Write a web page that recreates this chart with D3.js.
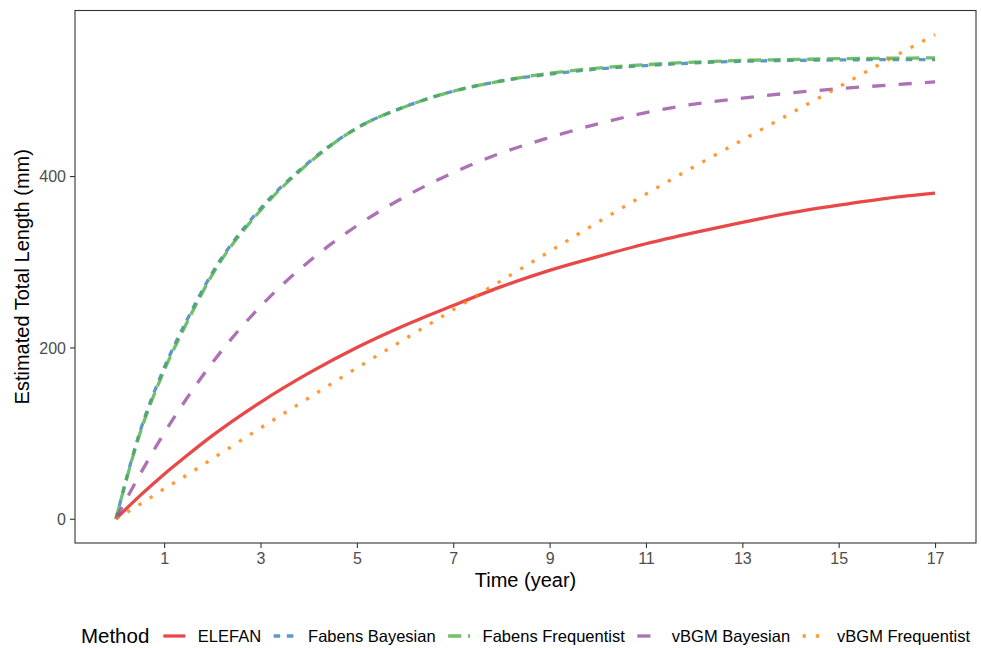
<!DOCTYPE html>
<html>
<head>
  <meta charset="utf-8">
  <title>Estimated growth curves</title>
  <style>
    body { margin: 0; background: #fff; }
    svg { display: block; font-family: "Liberation Sans", Arial, Helvetica, sans-serif; }
    .tick text { fill: #4d4d4d; font-size: 16px; }
    .tick line { stroke: #333; }
  </style>
</head>
<body>
  <svg width="981" height="648"></svg>
  <script src="https://d3js.org/d3.v7.min.js"></script>
  <script>
    // values
    const years = [0, 0.5, 1, 1.5, 2, 3, 4, 5, 6, 7, 8, 9, 10, 11, 12, 13, 14, 15, 16, 17];
    const methods = ["ELEFAN", "Fabens Bayesian", "Fabens Frequentist", "vBGM Bayesian", "vBGM Frequentist"];
    const elefan      = [0, 27, 52, 75, 97, 136, 170, 200, 226, 249, 271, 290, 306, 321, 334, 346, 357, 366, 374, 380];
    const fabensBayes = [0, 102, 176, 235, 287, 362, 416, 456, 481, 499, 511, 519, 525, 529, 532, 534, 535, 535.5, 536, 536];
    const fabensFreq  = [0, 100, 173, 232, 285, 360, 415, 456, 481, 499, 511, 520, 526, 530, 533, 535, 536, 537, 537.5, 538];
    const vbgmBayes   = [0, 52, 100, 143, 182, 248, 300, 342, 376, 404, 427, 445, 461, 474, 484, 491, 497, 502, 506, 510];
    const vbgmFreq    = [0, 17, 35, 52, 70, 106, 141, 176, 210, 244, 278, 312, 346, 379, 411, 442, 473, 504, 535, 565];
    const xTicks = [1, 3, 5, 7, 9, 11, 13, 15, 17];
    const yTicks = [0, 200, 400];

    const seriesValues = [elefan, fabensBayes, fabensFreq, vbgmBayes, vbgmFreq];
    const colors = ["#E41A1C", "#377EB8", "#4DAF4A", "#984EA3", "#FF7F00"];
    const lw = 3.3;
    // ggplot default linetypes: solid, 22, 42, 44, 13
    const dashes = [null, [2, 2], [4, 2], [4, 4], [1, 3]].map(p => p ? p.map(v => v * lw).join(",") : null);

    const series = methods.map((m, i) => ({
      name: m,
      color: colors[i],
      dash: dashes[i],
      values: years.map((t, j) => ({ t, v: seriesValues[i][j] }))
    }));

    const svg = d3.select("svg");
    const panel = { left: 75, right: 976, top: 10.5, bottom: 543 };

    const xMin = d3.min(years), xMax = d3.max(years);
    const yMax = d3.max(seriesValues.flat()), yMin = 0;
    const xPad = (xMax - xMin) * 0.05, yPad = (yMax - yMin) * 0.05;

    const x = d3.scaleLinear().domain([xMin - xPad, xMax + xPad]).range([panel.left, panel.right]);
    const y = d3.scaleLinear().domain([yMin - yPad, yMax + yPad]).range([panel.bottom, panel.top]);

    // lines
    const line = d3.line().x(d => x(d.t)).y(d => y(d.v)).curve(d3.curveMonotoneX);
    const g = svg.append("g");
    series.forEach(s => {
      g.append("path")
        .datum(s.values)
        .attr("fill", "none")
        .attr("stroke", s.color)
        .attr("stroke-opacity", 0.8)
        .attr("stroke-width", lw)
        .attr("stroke-linecap", "butt")
        .attr("stroke-dasharray", s.dash)
        .attr("d", line);
    });

    // panel border
    svg.append("rect")
      .attr("x", panel.left).attr("y", panel.top)
      .attr("width", panel.right - panel.left).attr("height", panel.bottom - panel.top)
      .attr("fill", "none").attr("stroke", "#333").attr("stroke-width", 1.1);

    // axes
    const xAxis = svg.append("g")
      .attr("transform", `translate(0,${panel.bottom})`)
      .call(d3.axisBottom(x).tickValues(xTicks).tickSize(5).tickPadding(5));
    xAxis.select(".domain").remove();

    const yAxis = svg.append("g")
      .attr("transform", `translate(${panel.left},0)`)
      .call(d3.axisLeft(y).tickValues(yTicks).tickSize(5).tickPadding(4));
    yAxis.select(".domain").remove();
    svg.selectAll(".tick line").attr("stroke-width", 1.1);
    yAxis.selectAll(".tick text").attr("dy", "0.36em");

    // axis titles
    svg.append("text")
      .attr("x", (panel.left + panel.right) / 2).attr("y", 587)
      .attr("text-anchor", "middle").attr("font-size", 20).attr("fill", "#000")
      .text("Time (year)");

    svg.append("text")
      .attr("transform", `translate(29,${(panel.top + panel.bottom) / 2}) rotate(-90)`)
      .attr("text-anchor", "middle").attr("font-size", 20).attr("fill", "#000")
      .text("Estimated Total Length (mm)");

    // legend
    const legY = 636;
    const leg = svg.append("g");
    const title = leg.append("text")
      .attr("x", 0).attr("y", legY).attr("dy", "0.35em")
      .attr("font-size", 20.5).attr("fill", "#000")
      .text("Method");
    let cx = title.node().getComputedTextLength() + 14;
    const keyW = 22;
    series.forEach((s, i) => {
      leg.append("line")
        .attr("x1", cx).attr("x2", cx + keyW)
        .attr("y1", legY).attr("y2", legY)
        .attr("stroke", s.color).attr("stroke-opacity", 0.8)
        .attr("stroke-width", lw).attr("stroke-dasharray", s.dash);
      cx += keyW + 12.5;
      const t = leg.append("text")
        .attr("x", cx).attr("y", legY).attr("dy", "0.35em")
        .attr("font-size", 16.5).attr("fill", "#000")
        .text(s.name);
      cx += t.node().getComputedTextLength();
      if (i < series.length - 1) cx += 12.5;
    });
    leg.attr("transform", `translate(${(panel.left + panel.right) / 2 - cx / 2},0)`);
  </script>
</body>
</html>
